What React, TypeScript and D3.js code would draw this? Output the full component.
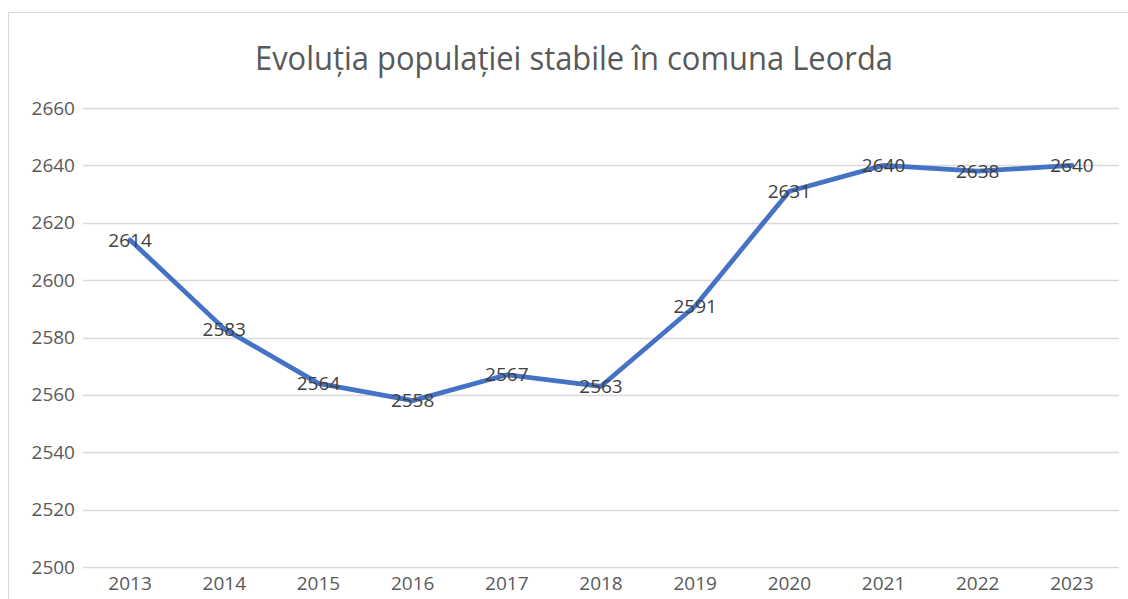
import React, { useEffect, useRef } from 'react';
import * as d3 from 'd3';

const years = ['2013', '2014', '2015', '2016', '2017', '2018', '2019', '2020', '2021', '2022', '2023'];
const population = [2614, 2583, 2564, 2558, 2567, 2563, 2591, 2631, 2640, 2638, 2640];
const yTicks = [2500, 2520, 2540, 2560, 2580, 2600, 2620, 2640, 2660];
const title = 'Evoluția populației stabile în comuna Leorda';

const FONT = "'Open Sans', 'Liberation Sans', sans-serif";

export default function App() {
  const ref = useRef<SVGSVGElement>(null);

  useEffect(() => {
    if (!ref.current) return;
    const svg = d3.select(ref.current);
    svg.selectAll('*').remove();

    const width = 1128;
    const height = 599;
    const margin = { top: 108, right: 9, bottom: 32, left: 83 };

    // chart frame
    svg.append('rect')
      .attr('x', 8.5)
      .attr('y', 12.5)
      .attr('width', 1140)
      .attr('height', 620)
      .attr('fill', '#fff')
      .attr('stroke', '#d9d9d9')
      .attr('stroke-width', 1);

    const x = d3.scaleBand()
      .domain(years)
      .range([margin.left, width - margin.right]);

    const y = d3.scaleLinear()
      .domain([2500, 2660])
      .range([height - margin.bottom, margin.top]);

    // Title
    svg.append('text')
      .attr('x', 574)
      .attr('y', 70)
      .attr('text-anchor', 'middle')
      .attr('font-family', FONT)
      .attr('font-size', '32px')
      .attr('textLength', 638)
      .attr('lengthAdjust', 'spacingAndGlyphs')
      .attr('fill', '#595959')
      .text(title);

    // Grid lines
    svg.append('g')
      .selectAll('line')
      .data(yTicks)
      .enter()
      .append('line')
      .attr('x1', margin.left)
      .attr('x2', width - margin.right)
      .attr('y1', d => Math.round(y(d)) + 0.5)
      .attr('y2', d => Math.round(y(d)) + 0.5)
      .attr('stroke', '#d9d9d9')
      .attr('stroke-width', 1.3);

    // Y-axis
    const yAxis = svg.append('g')
      .attr('transform', `translate(${margin.left},0)`)
      .call(d3.axisLeft(y).tickValues(yTicks).tickSize(0).tickPadding(8).tickFormat(d3.format('d')));
    yAxis.select('.domain').remove();
    yAxis.selectAll('text')
      .attr('fill', '#595959')
      .attr('font-size', '19px')
      .attr('font-family', FONT);

    // X-axis
    const xAxis = svg.append('g')
      .attr('transform', `translate(0,${height - margin.bottom})`)
      .call(d3.axisBottom(x).tickSize(0).tickPadding(10));
    xAxis.select('.domain').remove();
    xAxis.selectAll('text')
      .attr('fill', '#595959')
      .attr('font-size', '19px')
      .attr('font-family', FONT);

    const cx = (i: number) => x(years[i])! + x.bandwidth() / 2;

    const line = d3.line<number>()
      .x((_, i) => cx(i))
      .y(d => y(d));

    svg.append('path')
      .datum(population)
      .attr('fill', 'none')
      .attr('stroke', '#4472C4')
      .attr('stroke-width', 4.75)
      .attr('stroke-linejoin', 'round')
      .attr('stroke-linecap', 'round')
      .attr('d', line);

    // Data labels
    svg.append('g')
      .selectAll('text')
      .data(population)
      .enter()
      .append('text')
      .attr('x', (_, i) => cx(i))
      .attr('y', d => y(d))
      .attr('dy', '0.35em')
      .attr('text-anchor', 'middle')
      .attr('font-family', FONT)
      .attr('font-size', '19px')
      .attr('fill', '#404040')
      .text(d => d);
  }, []);

  return (
    <svg
      ref={ref}
      width={1128}
      height={599}
      style={{ position: 'absolute', left: 0, top: 0, display: 'block' }}
    />
  );
}
